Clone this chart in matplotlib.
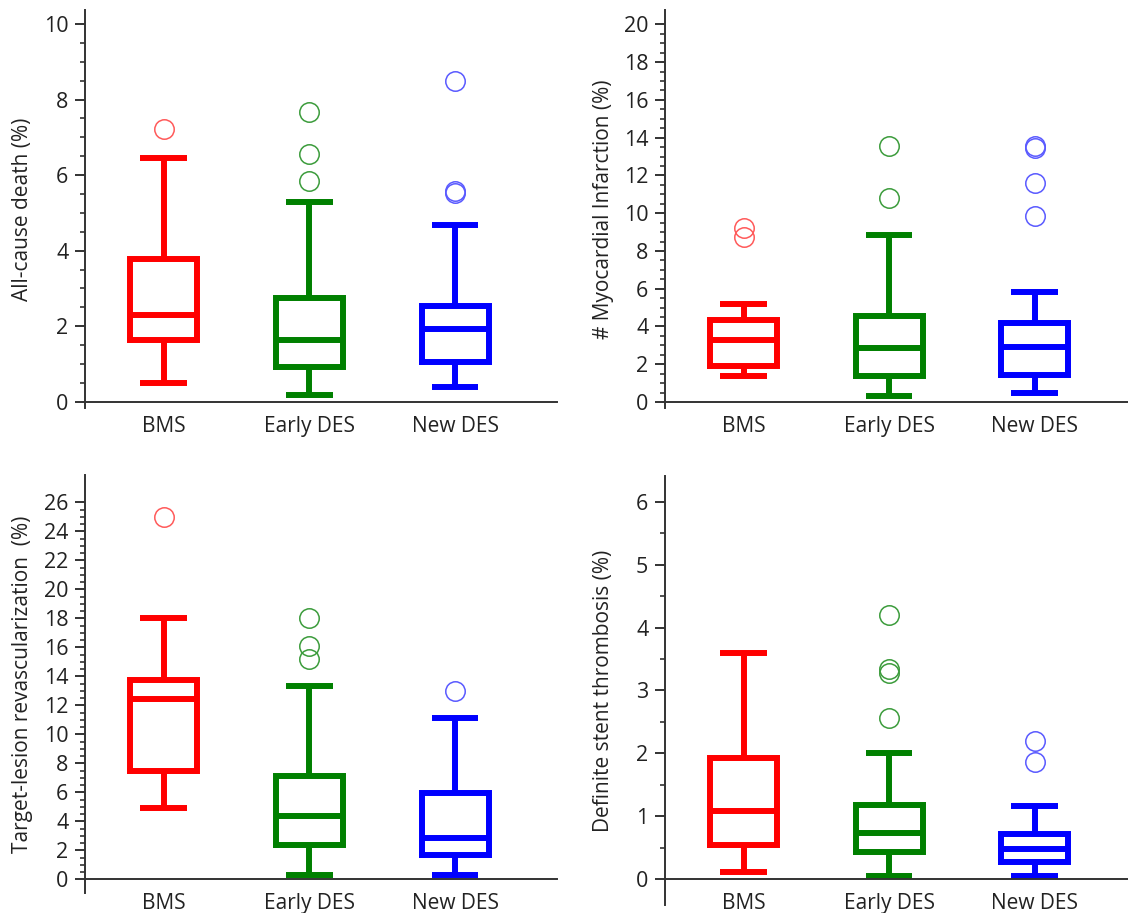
import matplotlib
matplotlib.use("Agg")
import matplotlib.pyplot as plt
from matplotlib.ticker import FixedLocator
import numpy as np

plt.rcParams['font.family'] = ['Open Sans', 'DejaVu Sans']

groups = ['BMS', 'Early DES', 'New DES']
colors = ['#ff0000', '#008000', '#0000ff']
flier_colors = ['#ff5a5a', '#3c9c3c', '#5a5aff']

# box summaries per group: [whisker low, q1, median, q3, whisker high]
death_box = [[0.50, 1.63, 2.29, 3.77, 6.46],
             [0.19, 0.93, 1.63, 2.75, 5.30],
             [0.38, 1.04, 1.92, 2.53, 4.68]]
death_out = [[7.22], [7.68, 6.55, 5.84], [8.49, 5.58, 5.52]]

mi_box = [[1.39, 1.89, 3.30, 4.36, 5.20],
          [0.34, 1.39, 2.86, 4.57, 8.82],
          [0.48, 1.45, 2.91, 4.18, 5.82]]
mi_out = [[9.20, 8.73], [13.58, 10.79], [13.58, 13.44, 11.62, 9.86]]

tlr_box = [[4.94, 7.49, 12.41, 13.75, 18.00],
           [0.30, 2.37, 4.37, 7.13, 13.33],
           [0.30, 1.68, 2.87, 5.93, 11.10]]
tlr_out = [[24.97], [18.00, 16.10, 15.17], [12.99]]

st_box = [[0.12, 0.55, 1.08, 1.93, 3.59],
          [0.05, 0.44, 0.74, 1.18, 2.00],
          [0.05, 0.28, 0.48, 0.72, 1.17]]
st_out = [[], [4.20, 3.34, 3.28, 2.56], [2.19, 1.87]]

fig = plt.figure(figsize=(11.28, 9.13), dpi=100)

panels = [
    ([0.0754, 0.5531, 0.4184, 0.4359], (0.46, 3.70), (-0.167, 10.37), 2, 10, death_box, death_out, "All-cause death (%)"),
    ([0.5895, 0.5531, 0.4105, 0.4359], (0.459, 3.642), (-0.32, 20.76), 2, 20, mi_box, mi_out, "# Myocardial Infarction (%)"),
    ([0.0754, 0.0219, 0.4184, 0.4578], (0.46, 3.70), (-0.94, 27.88), 2, 26, tlr_box, tlr_out, "Target-lesion revascularization  (%)"),
    ([0.5895, 0.00876, 0.4105, 0.4699], (0.459, 3.642), (-0.41, 6.41), 1, 6, st_box, st_out, "Definite stent thrombosis (%)"),
]

lw = 4.3
for rect, xl, yl, step, top, boxes, outs, label in panels:
    ax = fig.add_axes(rect)
    for i, (b, o) in enumerate(zip(boxes, outs)):
        stats = [dict(whislo=b[0], q1=b[1], med=b[2], q3=b[3], whishi=b[4], fliers=o, label=groups[i])]
        c = colors[i]
        ax.bxp(stats, positions=[i + 1], widths=0.46, capwidths=0.32,
               boxprops=dict(color=c, linewidth=lw, solid_joinstyle='miter'),
               medianprops=dict(color=c, linewidth=lw, solid_capstyle='butt'),
               whiskerprops=dict(color=c, linewidth=lw, solid_capstyle='butt'),
               capprops=dict(color=c, linewidth=lw, solid_capstyle='butt'),
               flierprops=dict(marker='o', markersize=14, markerfacecolor='none',
                               markeredgecolor=flier_colors[i], markeredgewidth=1.1,
                               linestyle='none'))
    ax.set_xlim(*xl)
    ax.set_ylim(*yl)
    ax.set_xticks([1, 2, 3])
    ax.set_xticklabels(groups)
    ax.yaxis.set_major_locator(FixedLocator(np.arange(0, top + 0.01, step)))
    ax.yaxis.set_minor_locator(FixedLocator(np.arange(0, top + 0.01, 0.5)))
    for s in ['top', 'right']:
        ax.spines[s].set_visible(False)
    ax.spines['bottom'].set_position(('data', 0))
    for s in ['left', 'bottom']:
        ax.spines[s].set_linewidth(1.4)
        ax.spines[s].set_color('#333333')
    ax.tick_params(axis='x', length=0, pad=10, labelsize=15, colors='#222222')
    ax.tick_params(axis='y', which='major', length=7, width=1.4, labelsize=15.5,
                   pad=5, color='#333333', labelcolor='#222222')
    ax.tick_params(axis='y', which='minor', length=3.5, width=1.2, color='#333333')
    ax.set_ylabel(label, fontsize=15, color='#222222')
    ax.yaxis.set_label_coords(-0.111, 0.5)
    ax.patch.set_alpha(0)

fig.savefig("out.png", dpi=100)
